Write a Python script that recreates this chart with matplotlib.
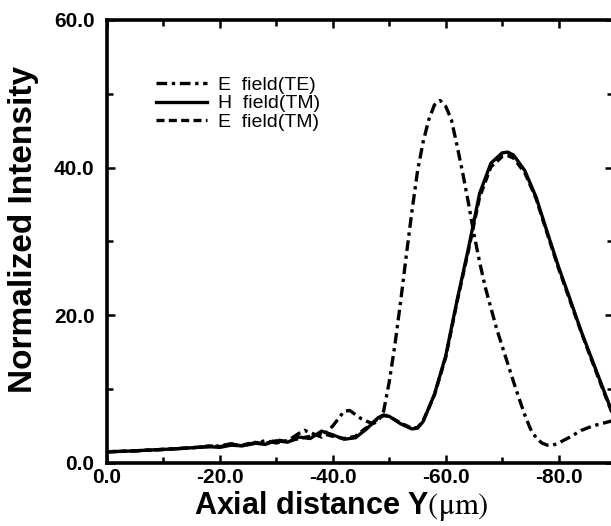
import matplotlib
matplotlib.use("Agg")
import matplotlib.pyplot as plt
from matplotlib.ticker import MultipleLocator, FormatStrFormatter

plt.rcParams['font.family'] = ['Liberation Sans', 'DejaVu Sans']
plt.rcParams['mathtext.fontset'] = 'stix'

# H field (TM) - solid
x_h = [0, -4, -8, -12, -16, -18, -20, -22, -24, -26, -28, -30, -32, -34, -36, -38, -40,
       -42, -44, -46, -48, -49, -50, -52, -54, -55, -56, -58, -60, -62, -64, -66, -68,
       -70, -71, -72, -74, -76, -78, -80, -82, -84, -86, -88, -90]
y_h = [1.5, 1.6, 1.75, 1.9, 2.1, 2.2, 2.1, 2.4, 2.3, 2.7, 2.5, 3.0, 2.8, 3.5, 3.3, 4.3, 3.8,
       3.2, 3.4, 4.6, 6.1, 6.5, 6.3, 5.3, 4.6, 4.7, 5.6, 9.3, 14.5, 22.0, 29.0, 36.5, 40.6,
       42.0, 42.1, 41.7, 39.6, 36.0, 31.2, 26.5, 22.2, 17.8, 13.8, 9.8, 5.8]

# E field (TM) - dashed
y_etm = [1.5, 1.6, 1.75, 1.9, 2.1, 2.3, 2.2, 2.5, 2.4, 2.8, 2.6, 3.1, 2.9, 3.3, 3.6, 4.0, 3.6,
         3.3, 3.6, 4.8, 6.0, 6.4, 6.3, 5.4, 4.7, 4.8, 5.7, 9.2, 14.3, 21.8, 28.7, 36.0, 40.1,
         41.5, 41.6, 41.3, 39.3, 35.8, 31.0, 26.3, 22.0, 17.7, 13.6, 9.6, 5.7]

# E field (TE) - dash-dot
x_te = [0, -4, -8, -12, -16, -20, -22, -24, -26, -28, -30, -32, -34, -35, -36, -38, -40,
        -42, -43, -45, -47, -48, -49, -50, -51, -52, -53, -54, -55, -56, -57, -58, -59,
        -60, -61, -62, -63, -64, -65, -66, -67, -68, -69, -70, -71, -72, -73, -74, -75,
        -76, -77, -78, -79, -80, -82, -84, -86, -88, -90]
y_te = [1.5, 1.6, 1.75, 1.9, 2.1, 2.3, 2.6, 2.3, 2.6, 3.0, 2.7, 3.0, 4.0, 4.4, 4.1, 3.5, 5.0,
        7.0, 7.1, 6.0, 5.3, 5.6, 7.0, 11.0, 16.0, 21.8, 28.0, 34.0, 39.5, 43.5, 46.5, 48.5, 49.1,
        48.3, 46.5, 43.0, 39.3, 35.3, 31.0, 27.2, 23.8, 21.0, 18.2, 15.8, 13.4, 11.0, 8.7, 6.5, 4.6,
        3.4, 2.7, 2.4, 2.4, 2.7, 3.5, 4.4, 5.0, 5.4, 5.8]

fig = plt.figure(figsize=(6.11, 5.26), dpi=100)
ax = fig.add_axes([0.175, 0.12, 0.829, 0.842])

lw = 2.4
ax.plot(x_te, y_te, color='black', lw=lw, dashes=(3.2, 1.4, 1.0, 1.4), label='E  field(TE)')
ax.plot(x_h, y_h, color='black', lw=lw, label='H  field(TM)')
ax.plot(x_h, y_etm, color='black', lw=lw, dashes=(2.4, 1.3), label='E  field(TM)')

ax.set_xlim(0, -89.7)
ax.set_ylim(0, 60)
ax.xaxis.set_major_locator(MultipleLocator(20))
ax.xaxis.set_minor_locator(MultipleLocator(10))
ax.yaxis.set_major_locator(MultipleLocator(20))
ax.yaxis.set_minor_locator(MultipleLocator(10))
ax.xaxis.set_major_formatter(FormatStrFormatter('%.1f'))
ax.yaxis.set_major_formatter(FormatStrFormatter('%.1f'))
ax.tick_params(which='both', direction='in', top=True, right=True, width=1.8)
ax.tick_params(which='major', length=6, labelsize=15)
ax.tick_params(axis='x', which='major', pad=4)
ax.tick_params(axis='y', which='major', pad=9)
ax.tick_params(which='minor', length=4)
for lab in ax.get_xticklabels() + ax.get_yticklabels():
    lab.set_fontweight('heavy')
for sp in ax.spines.values():
    sp.set_linewidth(2.6)

ax.set_ylabel('Normalized Intensity', fontsize=24, fontweight='bold')
ax.yaxis.set_label_coords(-0.134, 0.526)
ax.set_xlabel(r'Axial distance Y$(\mathrm{\mu m})$', fontsize=22, fontweight='bold')
ax.xaxis.set_label_coords(0.463, -0.06)

ax.legend(loc='upper left', bbox_to_anchor=(0.097, 0.873), frameon=False, fontsize=14,
          handlelength=2.6, handletextpad=0.6, labelspacing=0.05, borderpad=0, borderaxespad=0)

fig.savefig('out.png', dpi=100)
